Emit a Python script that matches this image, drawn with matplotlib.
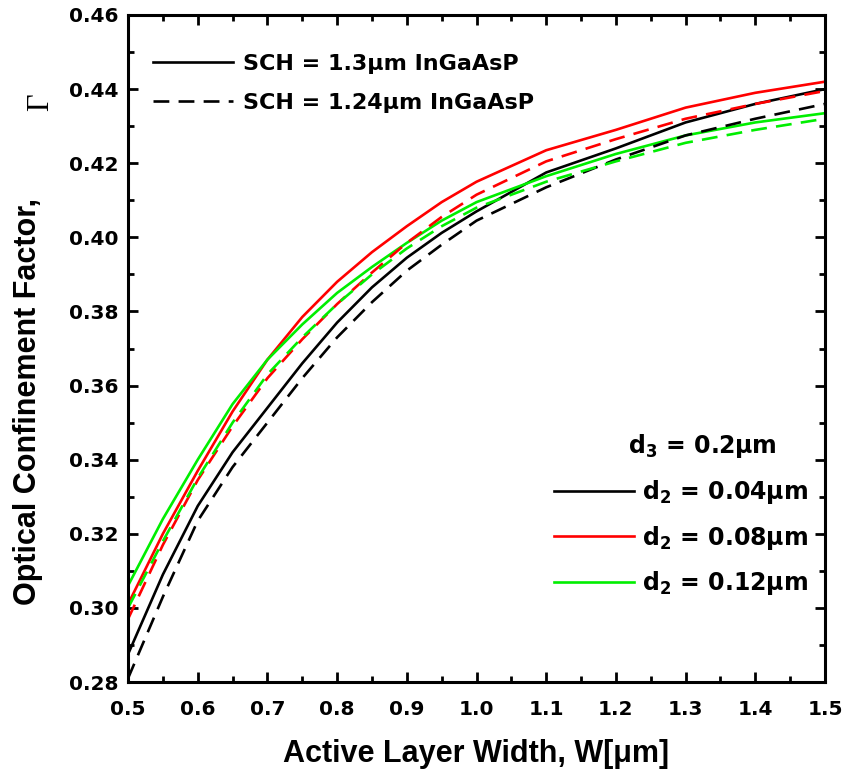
import matplotlib
matplotlib.use("Agg")
from matplotlib import pyplot as plt
from matplotlib.lines import Line2D
from matplotlib.ticker import MultipleLocator

# active layer width W [um]
width = [0.5, 0.55, 0.6, 0.65, 0.7, 0.75, 0.8, 0.85, 0.9, 0.95, 1.0, 1.1, 1.2, 1.3, 1.4, 1.5]

# optical confinement factor, SCH = 1.3um InGaAsP (solid)
gamma_d004_13 = [0.2875, 0.309, 0.3275, 0.342, 0.354, 0.366, 0.377, 0.3865, 0.3945, 0.4012, 0.407,
                 0.4175, 0.424, 0.431, 0.436, 0.440]
gamma_d008_13 = [0.301, 0.320, 0.337, 0.353, 0.367, 0.3785, 0.388, 0.396, 0.403, 0.4095, 0.415,
                 0.4235, 0.429, 0.435, 0.439, 0.442]
gamma_d012_13 = [0.306, 0.324, 0.340, 0.355, 0.367, 0.3765, 0.385, 0.392, 0.3985, 0.4045, 0.4095,
                 0.4165, 0.4225, 0.4275, 0.431, 0.4335]

# SCH = 1.24um InGaAsP (dashed)
gamma_d004_124 = [0.281, 0.303, 0.3235, 0.338, 0.350, 0.362, 0.373, 0.3825, 0.391, 0.398, 0.4045,
                  0.4135, 0.421, 0.4275, 0.432, 0.436]
gamma_d008_124 = [0.297, 0.317, 0.3345, 0.349, 0.362, 0.3725, 0.382, 0.3905, 0.3985, 0.4055, 0.4115,
                  0.4205, 0.4265, 0.432, 0.436, 0.4395]
gamma_d012_124 = [0.300, 0.318, 0.335, 0.350, 0.363, 0.373, 0.382, 0.390, 0.397, 0.403, 0.408,
                  0.415, 0.4205, 0.4255, 0.429, 0.432]

sch_labels = ["SCH = 1.3μm InGaAsP", "SCH = 1.24μm InGaAsP"]
d2_labels = ["d$_2$ = 0.04μm", "d$_2$ = 0.08μm", "d$_2$ = 0.12μm"]
d3_label = "d$_3$ = 0.2μm"

BLACK = "#000000"
RED = "#ff0000"
GREEN = "#00ee00"
DASH = (0, (6, 3.5))

plt.rcParams['font.family'] = ['DejaVu Sans']
plt.rcParams['mathtext.fontset'] = 'dejavusans'
plt.rcParams['mathtext.default'] = 'bf'

fig = plt.figure(figsize=(8.44, 7.76), dpi=100)
ax = fig.add_axes([0.1517, 0.1211, 0.8258, 0.8596])

lw = 1.9
for ys, c in [(gamma_d004_13, BLACK), (gamma_d008_13, RED), (gamma_d012_13, GREEN)]:
    ax.plot(width, ys, color=c, lw=lw)
for ys, c in [(gamma_d004_124, BLACK), (gamma_d008_124, RED), (gamma_d012_124, GREEN)]:
    ax.plot(width, ys, color=c, lw=lw, linestyle=DASH)

ax.set_xlim(0.5, 1.5)
ax.set_ylim(0.28, 0.46)
ax.xaxis.set_major_locator(MultipleLocator(0.1))
ax.xaxis.set_minor_locator(MultipleLocator(0.05))
ax.yaxis.set_major_locator(MultipleLocator(0.02))
ax.yaxis.set_minor_locator(MultipleLocator(0.01))
ax.xaxis.set_major_formatter(plt.FormatStrFormatter("%.1f"))
ax.yaxis.set_major_formatter(plt.FormatStrFormatter("%.2f"))

for s in ax.spines.values():
    s.set_linewidth(2.2)
ax.tick_params(which='both', direction='in', top=True, right=True, width=2.0)
ax.tick_params(which='major', length=7)
ax.tick_params(which='minor', length=4.5)
ax.tick_params(axis='x', labelsize=14.5, pad=13)
ax.tick_params(axis='y', labelsize=14.5, pad=7)
for lab in ax.get_xticklabels() + ax.get_yticklabels():
    lab.set_fontweight('bold')

label_font = dict(fontsize=22, fontweight='bold',
                  family=['DejaVu Sans Condensed', 'Liberation Sans Narrow', 'Liberation Sans'])
ax.set_xlabel("Active Layer Width, W[μm]", **label_font)
ax.xaxis.set_label_coords(0.5, -0.085)
ax.text(-0.1435, 0.42, "Optical Confinement Factor,", rotation=90, transform=ax.transAxes,
        ha='center', va='center', **label_font)
ax.text(-0.126, 0.87, "Γ", rotation=90, transform=ax.transAxes, ha='center', va='center',
        fontsize=22, family='Liberation Serif')

# legend: SCH material
sch_handles = [Line2D([], [], color=BLACK, lw=lw), Line2D([], [], color=BLACK, lw=lw, linestyle=DASH)]
leg1 = ax.legend(sch_handles, sch_labels, loc='upper left', bbox_to_anchor=(0.036, 0.942),
                 frameon=False, borderpad=0, borderaxespad=0, handlelength=3.6, handletextpad=0.45,
                 labelspacing=0.85, prop=dict(size=16, weight='bold'))
ax.add_artist(leg1)

# legend: d2 thickness
d2_handles = [Line2D([], [], color=c, lw=lw) for c in (BLACK, RED, GREEN)]
ax.legend(d2_handles, d2_labels, loc='upper left', bbox_to_anchor=(0.611, 0.306),
          frameon=False, borderpad=0, borderaxespad=0, handlelength=3.4, handletextpad=0.35,
          labelspacing=0.75, prop=dict(size=17, weight='bold'))
ax.text(0.7174, 0.343, d3_label, transform=ax.transAxes, ha='left', va='baseline',
        fontsize=17, fontweight='bold')

fig.savefig("out.png", dpi=100)
